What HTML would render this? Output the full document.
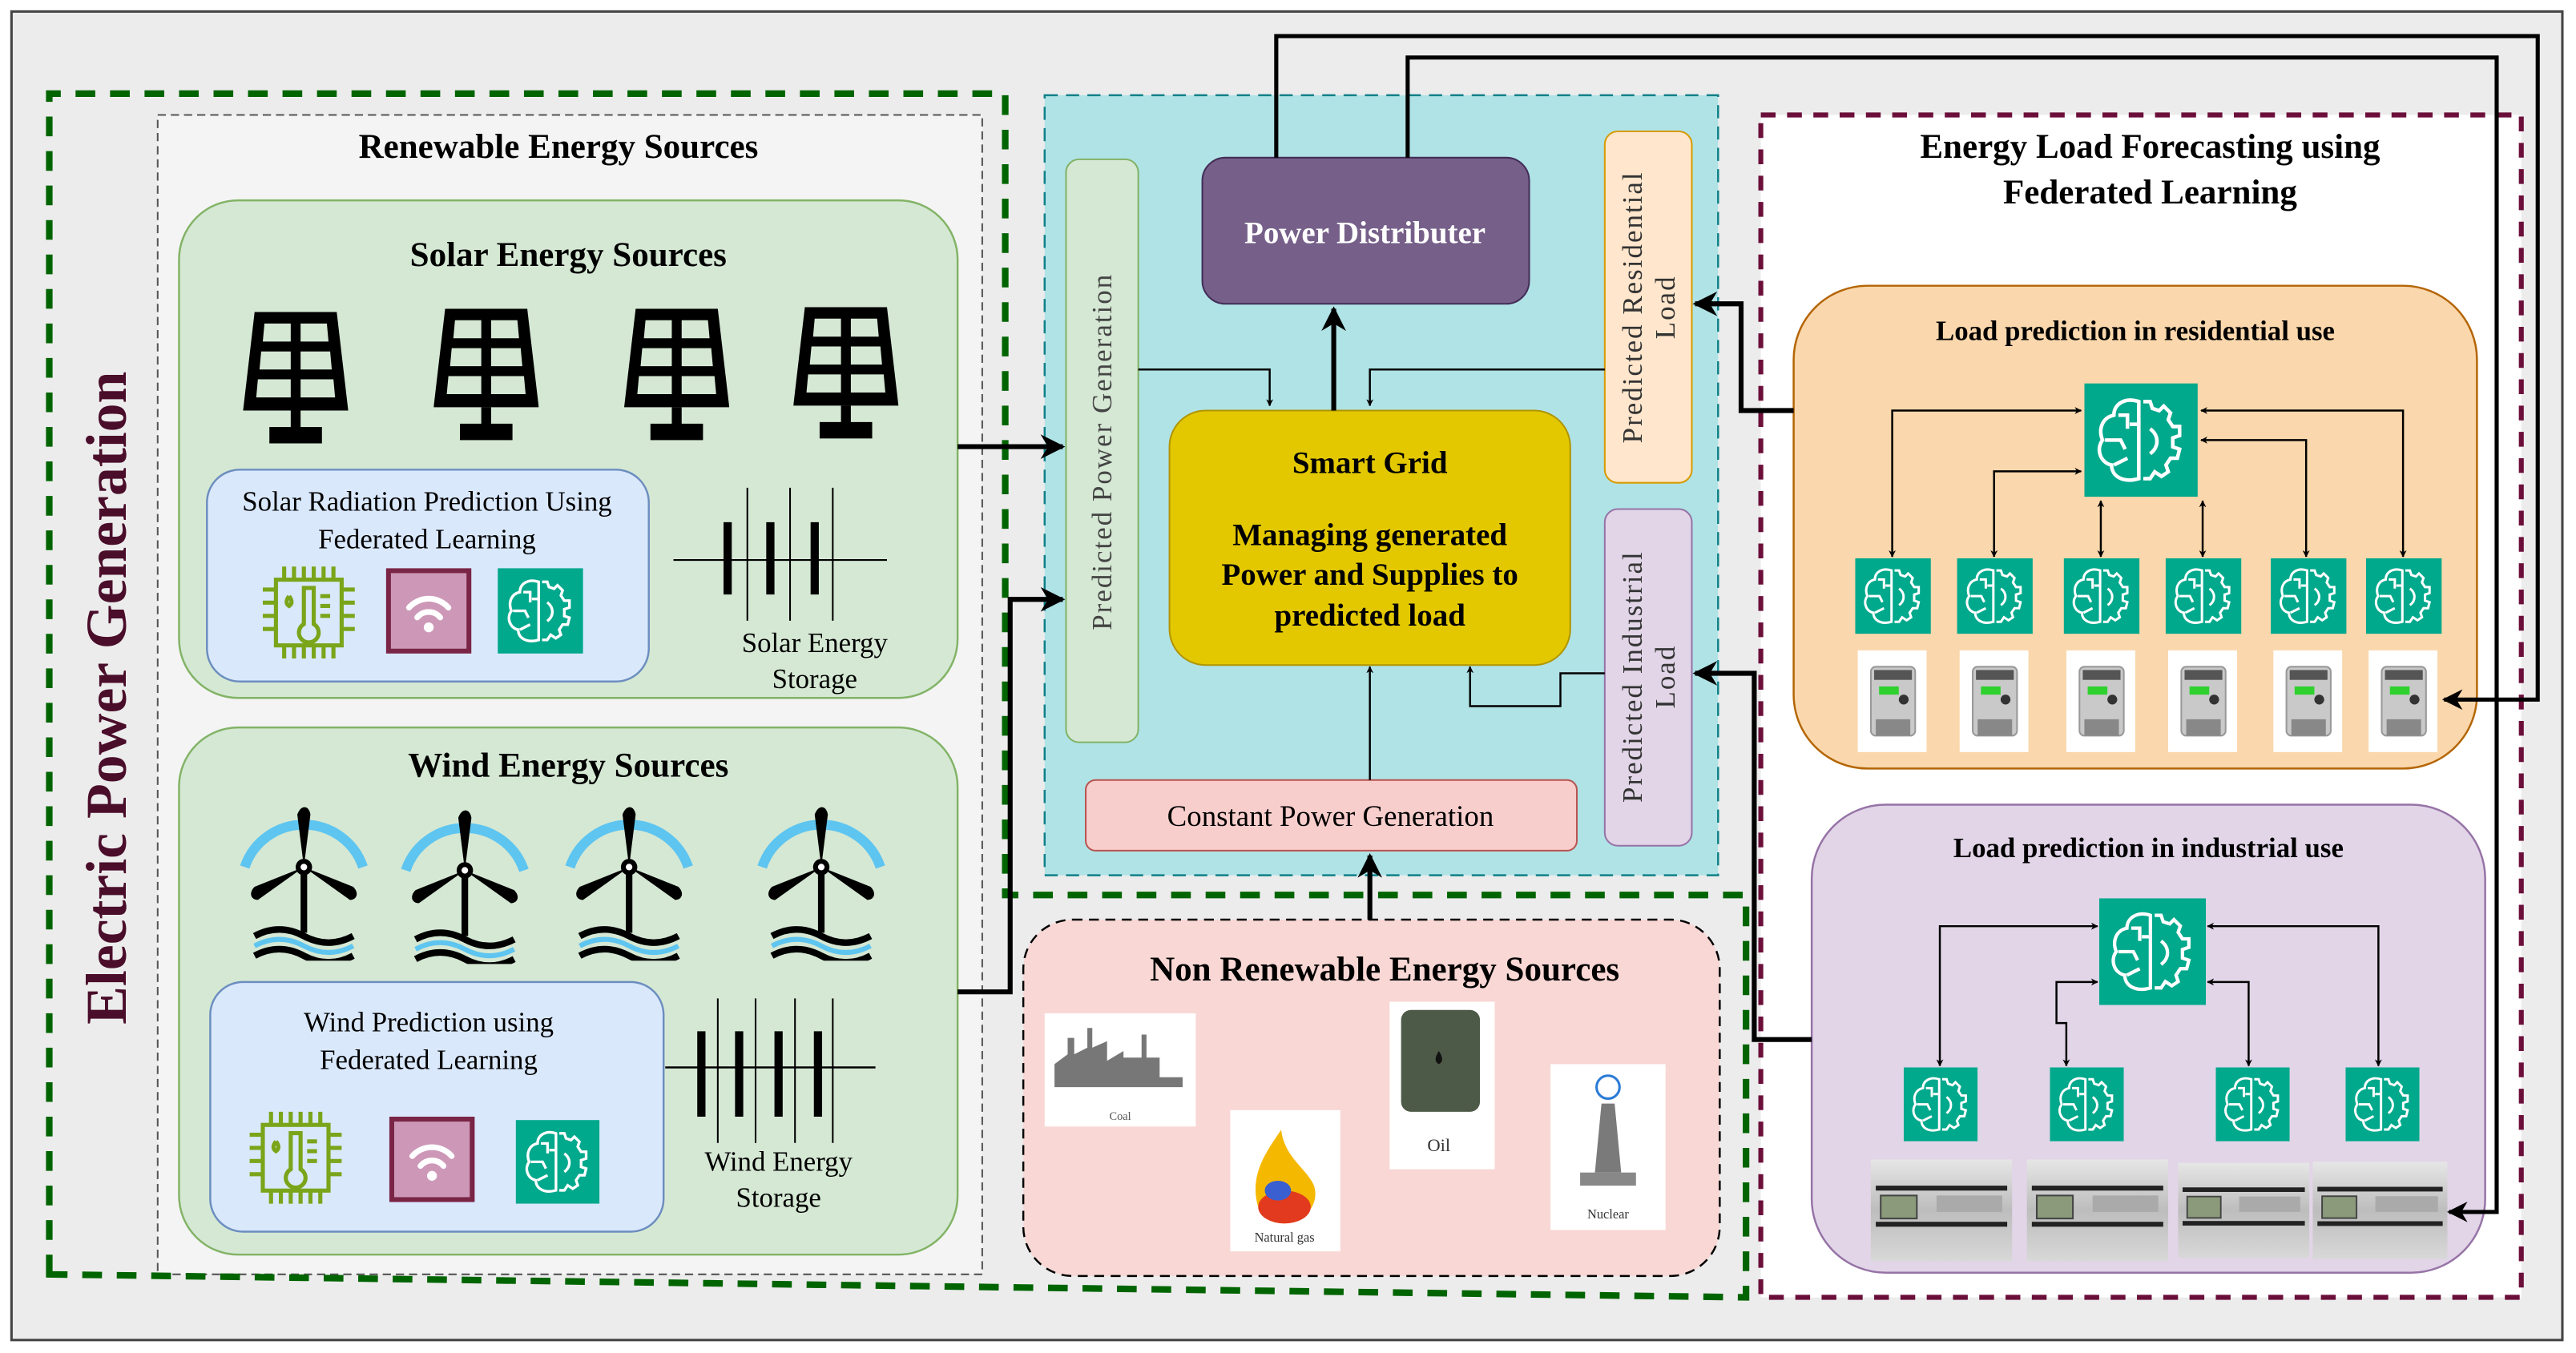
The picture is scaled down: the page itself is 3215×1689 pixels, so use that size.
<!DOCTYPE html>
<html><head><meta charset="utf-8"><style>
html,body{margin:0;padding:0;background:#fff;}
svg{display:block;}
text{font-family:"Liberation Serif",serif;}
</style></head><body>
<svg width="3215" height="1689" viewBox="0 0 1568.3 823.9" preserveAspectRatio="none" xmlns="http://www.w3.org/2000/svg" font-family="Liberation Serif, serif">
<defs>
<marker id="a" viewBox="0 0 10 10" refX="9" refY="5" markerWidth="5" markerHeight="5" orient="auto-start-reverse"><path d="M0,0 L10,5 L0,10 L3,5 Z" fill="#000"/></marker>
<marker id="b" viewBox="0 0 10 10" refX="9" refY="5" markerWidth="3.6" markerHeight="3.6" orient="auto-start-reverse"><path d="M0,0 L10,5 L0,10 L3,5 Z" fill="#000"/></marker>
<symbol id="brain" viewBox="0 0 50 50">
<rect width="50" height="50" fill="#00a88c"/>
<g fill="none" stroke="#fff" stroke-width="1.6">
<path d="M24,8 C18,6 13,9 13,14 C8,15 6,20 8,25 C5,29 7,35 12,36 C12,41 17,44 24,42 Z"/>
<path d="M15,14 L19,14 L19,20 M9,25 L16,25 L18,29 M13,36 L19,33 M24,18 L20,18"/>
<path d="M26,8 L29,8 L30,11 L33,12 L35,10 L38,13 L37,16 L39,19 L42,19 L42,23 L39,24 L39,28 L42,29 L41,33 L38,33 L36,36 L37,39 L34,41 L31,39 L29,42 L26,42"/>
<path d="M29,20 C33,23 33,28 29,31"/>
</g></symbol>
<symbol id="panel" viewBox="0 0 64 82">
<path d="M7,0 L57,0 L64,60 L0,60 Z" fill="#000"/>
<g fill="#d5e8d4"><path d="M13,7 L29,7 L29,18 L12,18 Z"/><path d="M35,7 L51,7 L52,18 L35,18 Z"/><path d="M11,24 L29,24 L29,35 L10,35 Z"/><path d="M35,24 L53,24 L54,35 L35,35 Z"/><path d="M9,41 L29,41 L29,52 L8,52 Z"/><path d="M35,41 L55,41 L56,52 L35,52 Z"/></g>
<rect x="29" y="60" width="6" height="12" fill="#000"/><rect x="16" y="70" width="32" height="10" fill="#000"/>
</symbol>
<symbol id="turb" viewBox="0 0 80 95">
<path d="M4,38 A38,38 0 0 1 76,38" fill="none" stroke="#5ec5f0" stroke-width="6"/>
<g fill="#000"><rect x="38" y="38" width="4" height="40"/>
<path d="M40,38 L36,6 C38,0 43,0 44,6 Z"/><path d="M40,38 L12,58 C8,58 6,54 10,50 Z"/><path d="M40,38 L68,58 C72,58 74,54 70,50 Z"/><circle cx="40" cy="38" r="5"/></g>
<circle cx="40" cy="38" r="2" fill="#fff"/>
<path d="M10,80 Q25,72 40,80 T70,80" fill="none" stroke="#000" stroke-width="4"/>
<path d="M10,86 Q25,78 40,86 T70,86" fill="none" stroke="#5ec5f0" stroke-width="3"/>
<path d="M10,92 Q25,84 40,92 T70,92" fill="none" stroke="#000" stroke-width="4"/>
</symbol>
<symbol id="chip" viewBox="0 0 60 60">
<g stroke="#7aa51a" stroke-width="2.5" fill="none"><rect x="10" y="10" width="40" height="40"/>
<path d="M15,2v8M21,2v8M27,2v8M33,2v8M39,2v8M45,2v8M15,50v8M21,50v8M27,50v8M33,50v8M39,50v8M45,50v8M2,16h8M2,24h8M2,32h8M2,40h8M50,16h8M50,24h8M50,32h8M50,40h8"/>
<path d="M27,15 v22 a6,6 0 1 0 6,0 v-22 z"/><path d="M18,20 q-3,4 0,6 q3,-2 0,-6"/><path d="M37,20h6M37,26h6M37,32h6"/></g></symbol>
<symbol id="wifi" viewBox="0 0 52 52">
<rect x="1.5" y="1.5" width="49" height="49" fill="#cd98b8" stroke="#7a2545" stroke-width="3"/>
<g fill="none" stroke="#fff" stroke-width="3.5" stroke-linecap="round"><path d="M14,24 a16,16 0 0 1 24,0"/><path d="M19,30 a9,9 0 0 1 14,0"/></g><circle cx="26" cy="36" r="3" fill="#fff"/></symbol>
<symbol id="rmeter" viewBox="0 0 42 62">
<rect width="42" height="62" fill="#fff"/>
<rect x="8" y="10" width="27" height="42" rx="3" fill="#c9c9c9" stroke="#999"/>
<rect x="10" y="12" width="23" height="6" fill="#555"/>
<rect x="13" y="22" width="12" height="5" fill="#2fd12f"/>
<circle cx="28" cy="30" r="3" fill="#333"/>
<rect x="11" y="42" width="21" height="10" fill="#888"/>
</symbol>
<linearGradient id="ig" x1="0" y1="0" x2="0" y2="1"><stop offset="0" stop-color="#e6e6e6"/><stop offset=".5" stop-color="#bdbdbd"/><stop offset="1" stop-color="#d8d8d8"/></linearGradient>
<symbol id="imeter" viewBox="0 0 86 62">
<rect width="86" height="62" fill="url(#ig)"/>
<rect x="3" y="16" width="80" height="3" fill="#222"/>
<rect x="6" y="22" width="22" height="14" fill="#8a9a7a" stroke="#444"/>
<rect x="40" y="22" width="40" height="10" fill="#aaa"/>
<rect x="3" y="38" width="80" height="3" fill="#222"/>
</symbol>
</defs>

<rect x="0" y="0" width="1568.3" height="823.9" fill="#fff"/>
<rect x="7" y="7" width="1553" height="809" fill="#ececec" stroke="#444" stroke-width="1.5"/>

<rect x="96" y="70" width="502" height="706" fill="#f4f4f4" stroke="#555" stroke-width="1" stroke-dasharray="5,3"/>
<path d="M30,776 L30,57 L612,57 L612,545 L1063,545 L1063,790 Z" fill="none" stroke="#006400" stroke-width="4" stroke-dasharray="12,9"/>
<text x="65" y="425" transform="rotate(-90 65 425)" text-anchor="middle" dominant-baseline="central" font-size="35" font-weight="bold" fill="#4a0d2a">Electric Power Generation</text>
<text x="340" y="96" text-anchor="middle" font-size="21" font-weight="bold">Renewable Energy Sources</text>

<rect x="109" y="122" width="474" height="303" rx="36" fill="#d5e8d4" stroke="#82b366" stroke-width="1.2"/>
<text x="346" y="162" text-anchor="middle" font-size="21" font-weight="bold">Solar Energy Sources</text>
<use href="#panel" x="148" y="190" width="64" height="82"/>
<use href="#panel" x="264" y="188" width="64" height="82"/>
<use href="#panel" x="380" y="188" width="64" height="82"/>
<use href="#panel" x="483" y="187" width="64" height="82"/>
<rect x="126" y="286" width="269" height="129" rx="20" fill="#dae8fc" stroke="#6c8ebf" stroke-width="1.2"/>
<text x="260" y="311" text-anchor="middle" font-size="17">Solar Radiation Prediction Using</text>
<text x="260" y="334" text-anchor="middle" font-size="17">Federated Learning</text>
<use href="#chip" x="158" y="343" width="60" height="60"/>
<use href="#wifi" x="235" y="346" width="52" height="52"/>
<use href="#brain" x="303" y="346" width="52" height="52"/>
<g stroke="#000"><path d="M410,341H540" stroke-width="1"/><path d="M455,297V378M481,297V378M507,297V378" stroke-width="1"/><path d="M443,318V362M469,318V362M496,318V362" stroke-width="5"/></g>
<text x="496" y="397" text-anchor="middle" font-size="17">Solar Energy</text>
<text x="496" y="419" text-anchor="middle" font-size="17">Storage</text>

<rect x="109" y="443" width="474" height="321" rx="36" fill="#d5e8d4" stroke="#82b366" stroke-width="1.2"/>
<text x="346" y="473" text-anchor="middle" font-size="21" font-weight="bold">Wind Energy Sources</text>
<use href="#turb" x="145" y="490" width="80" height="95"/>
<use href="#turb" x="243" y="492" width="80" height="95"/>
<use href="#turb" x="343" y="490" width="80" height="95"/>
<use href="#turb" x="460" y="490" width="80" height="95"/>
<rect x="128" y="598" width="276" height="152" rx="20" fill="#dae8fc" stroke="#6c8ebf" stroke-width="1.2"/>
<text x="261" y="628" text-anchor="middle" font-size="17">Wind Prediction using</text>
<text x="261" y="651" text-anchor="middle" font-size="17">Federated Learning</text>
<use href="#chip" x="150" y="675" width="60" height="60"/>
<use href="#wifi" x="237" y="680" width="52" height="52"/>
<use href="#brain" x="314" y="682" width="51" height="51"/>
<g stroke="#000"><path d="M405,650H533" stroke-width="1.2"/><path d="M437,608V696M460,608V696M484,608V696M507,608V696" stroke-width="1"/><path d="M427,628V680M450,628V680M474,628V680M498,628V680" stroke-width="5"/></g>
<text x="474" y="713" text-anchor="middle" font-size="17">Wind Energy</text>
<text x="474" y="735" text-anchor="middle" font-size="17">Storage</text>

<rect x="636" y="58" width="410" height="475" fill="#b0e3e6" stroke="#0e8088" stroke-width="1.2" stroke-dasharray="8,5"/>
<rect x="649" y="97" width="44" height="355" rx="8" fill="#d5e8d4" stroke="#82b366"/>
<text x="671" y="275" transform="rotate(-90 671 275)" text-anchor="middle" dominant-baseline="central" font-size="17" letter-spacing="1" fill="#444">Predicted Power Generation</text>
<rect x="732" y="96" width="199" height="89" rx="14" fill="#76608a" stroke="#432d57"/>
<text x="831" y="148" text-anchor="middle" font-size="19" font-weight="bold" fill="#fff">Power Distributer</text>
<rect x="712" y="250" width="244" height="155" rx="22" fill="#e3c800" stroke="#b09500"/>
<text x="834" y="288" text-anchor="middle" font-size="19" font-weight="bold">Smart Grid</text>
<text x="834" y="332" text-anchor="middle" font-size="19" font-weight="bold">Managing generated</text>
<text x="834" y="356" text-anchor="middle" font-size="19" font-weight="bold">Power and Supplies to</text>
<text x="834" y="381" text-anchor="middle" font-size="19" font-weight="bold">predicted load</text>
<rect x="977" y="80" width="53" height="214" rx="8" fill="#ffe6cc" stroke="#d79b00"/>
<text transform="translate(1003.5 187) rotate(-90)" text-anchor="middle" font-size="17" letter-spacing="1" fill="#333"><tspan x="0" y="-4">Predicted Residential</tspan><tspan x="0" y="16">Load</tspan></text>
<rect x="977" y="310" width="53" height="205" rx="8" fill="#e1d5e7" stroke="#9673a6"/>
<text transform="translate(1003.5 412) rotate(-90)" text-anchor="middle" font-size="17" letter-spacing="1" fill="#333"><tspan x="0" y="-4">Predicted Industrial</tspan><tspan x="0" y="16">Load</tspan></text>
<rect x="661" y="475" width="299" height="43" rx="6" fill="#f8cecc" stroke="#b85450"/>
<text x="810" y="503" text-anchor="middle" font-size="18">Constant Power Generation</text>

<g fill="none" stroke="#000">
<path d="M693,225H773V247" stroke-width="1.2" marker-end="url(#b)"/>
<path d="M977,225H834V247" stroke-width="1.2" marker-end="url(#b)"/>
<path d="M812,250V188" stroke-width="3" marker-end="url(#a)"/>
<path d="M834,475V406" stroke-width="1.2" marker-end="url(#b)"/>
<path d="M977,410H950V430H895V406" stroke-width="1.2" marker-end="url(#b)"/>
<path d="M834,560V521" stroke-width="3" marker-end="url(#a)"/>
<path d="M583,272H647" stroke-width="3" marker-end="url(#a)"/>
<path d="M583,604H615V365H647" stroke-width="3" marker-end="url(#a)"/>
</g>

<rect x="623" y="560" width="424" height="217" rx="30" fill="#f8d7d4" stroke="#000" stroke-width="1.2" stroke-dasharray="6,4"/>
<text x="843" y="597" text-anchor="middle" font-size="21" font-weight="bold">Non Renewable Energy Sources</text>
<rect x="636" y="617" width="92" height="69" fill="#fff"/>
<path d="M642,658V648L650,642V632H654V642L662,638V626H665V638L674,634V646L684,640V644H695V630H698V644H706V656H720V662H642Z" fill="#777"/>
<text x="682" y="682" text-anchor="middle" font-size="7" fill="#555">Coal</text>
<rect x="749" y="676" width="67" height="86" fill="#fff"/>
<path d="M766,735 C760,715 772,700 780,688 C782,705 796,712 800,722 C804,735 792,745 782,745 C772,745 768,740 766,735Z" fill="#f5b800"/>
<ellipse cx="782" cy="735" rx="16" ry="10" fill="#e23a1e"/>
<ellipse cx="778" cy="725" rx="8" ry="6" fill="#3a5fd0"/>
<text x="782" y="756" text-anchor="middle" font-size="8" fill="#333">Natural gas</text>
<rect x="846" y="610" width="64" height="102" fill="#fff"/>
<rect x="853" y="615" width="48" height="62" rx="6" fill="#4e5a48"/>
<path d="M876,640 q-4,6 0,8 q4,-2 0,-8" fill="#111"/>
<text x="876" y="701" text-anchor="middle" font-size="11" fill="#333">Oil</text>
<rect x="944" y="648" width="70" height="101" fill="#fff"/>
<circle cx="979" cy="662" r="7" fill="none" stroke="#2b7bd6" stroke-width="1.5"/>
<path d="M975,672H983L987,714H971Z" fill="#7a7a7a"/><rect x="962" y="714" width="34" height="8" fill="#888"/>
<text x="979" y="742" text-anchor="middle" font-size="8" fill="#333">Nuclear</text>

<rect x="1072" y="70" width="463" height="720" fill="#fff" stroke="#6b0f3a" stroke-width="3" stroke-dasharray="9,7"/>
<text x="1309" y="96" text-anchor="middle" font-size="21" font-weight="bold">Energy Load Forecasting using</text>
<text x="1309" y="124" text-anchor="middle" font-size="21" font-weight="bold">Federated Learning</text>

<rect x="1092" y="174" width="416" height="294" rx="45" fill="#fad7ac" stroke="#b46504" stroke-width="1.2"/>
<text x="1300" y="207" text-anchor="middle" font-size="17" font-weight="bold">Load prediction in residential use</text>
<use href="#brain" x="1269" y="233" width="69" height="70"/>
<use href="#brain" x="1129" y="340" width="47" height="46"/>
<use href="#brain" x="1191" y="340" width="47" height="46"/>
<use href="#brain" x="1256" y="340" width="47" height="46"/>
<use href="#brain" x="1318" y="340" width="47" height="46"/>
<use href="#brain" x="1382" y="340" width="47" height="46"/>
<use href="#brain" x="1440" y="340" width="47" height="46"/>
<use href="#rmeter" x="1131" y="396" width="42" height="62"/>
<use href="#rmeter" x="1193" y="396" width="42" height="62"/>
<use href="#rmeter" x="1258" y="396" width="42" height="62"/>
<use href="#rmeter" x="1320" y="396" width="42" height="62"/>
<use href="#rmeter" x="1384" y="396" width="42" height="62"/>
<use href="#rmeter" x="1442" y="396" width="42" height="62"/>
<g fill="none" stroke="#000" stroke-width="1.2">
<path d="M1152,339V250H1267" marker-start="url(#b)" marker-end="url(#b)"/>
<path d="M1214,339V287H1267" marker-start="url(#b)" marker-end="url(#b)"/>
<path d="M1279,339V305" marker-start="url(#b)" marker-end="url(#b)"/>
<path d="M1341,339V305" marker-start="url(#b)" marker-end="url(#b)"/>
<path d="M1404,339V268H1340" marker-start="url(#b)" marker-end="url(#b)"/>
<path d="M1463,339V250H1340" marker-start="url(#b)" marker-end="url(#b)"/>
</g>

<rect x="1103" y="490" width="410" height="285" rx="45" fill="#e1d5e7" stroke="#9673a6" stroke-width="1.2"/>
<text x="1308" y="522" text-anchor="middle" font-size="17" font-weight="bold">Load prediction in industrial use</text>
<use href="#brain" x="1278" y="547" width="65" height="65"/>
<use href="#brain" x="1159" y="650" width="45" height="45"/>
<use href="#brain" x="1248" y="650" width="45" height="45"/>
<use href="#brain" x="1349" y="650" width="45" height="45"/>
<use href="#brain" x="1428" y="650" width="45" height="45"/>
<use href="#imeter" x="1138" y="706" width="88" height="62"/>
<use href="#imeter" x="1232" y="706" width="90" height="62"/>
<use href="#imeter" x="1326" y="706" width="80" height="62"/>
<use href="#imeter" x="1408" y="706" width="82" height="62"/>
<g fill="none" stroke="#000" stroke-width="1.2">
<path d="M1181,649V564H1277" marker-start="url(#b)" marker-end="url(#b)"/>
<path d="M1258,649V623H1252V598H1277" marker-start="url(#b)" marker-end="url(#b)"/>
<path d="M1369,649V598H1344" marker-start="url(#b)" marker-end="url(#b)"/>
<path d="M1448,649V564H1344" marker-start="url(#b)" marker-end="url(#b)"/>
</g>

<g fill="none" stroke="#000">
<path d="M777,96V22H1545V426H1488" stroke-width="2.5" marker-end="url(#a)"/>
<path d="M857,96V35H1520V738H1491" stroke-width="2.5" marker-end="url(#a)"/>
<path d="M1092,250H1060V185H1032" stroke-width="3" marker-end="url(#a)"/>
<path d="M1103,633H1068V410H1032" stroke-width="3" marker-end="url(#a)"/>
</g>
</svg>
</body></html>
